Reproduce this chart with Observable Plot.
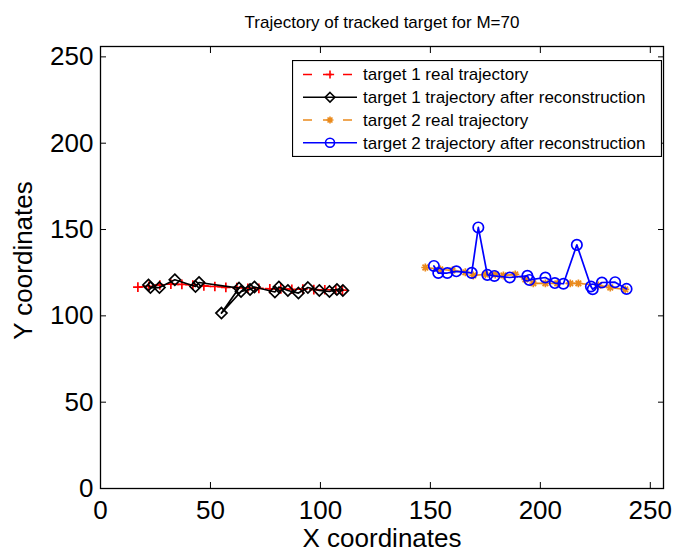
<!DOCTYPE html>
<html>
<head>
<meta charset="utf-8">
<script src="https://cdn.jsdelivr.net/npm/d3@7"></script>
<script src="https://cdn.jsdelivr.net/npm/@observablehq/plot@0.6"></script>
<style>
  html, body { margin: 0; padding: 0; background: #fff; }
  #wrap { position: relative; width: 677px; height: 551px; font-family: "Liberation Sans", Arial, Helvetica, sans-serif; }
  #legend { position: absolute; left: 292px; top: 60px; }
</style>
</head>
<body>
<div id="wrap"><div id="chart"></div><div id="legend"></div></div>
<script>
const titleText = "Trajectory of tracked target for M=70";
const xLabel = "X coordinates";
const yLabel = "Y coordinates";
const ticks = [0, 50, 100, 150, 200, 250];

// target 1 real trajectory
const t1RealX = [17, 22, 27, 32, 37, 42, 47, 52, 57, 62, 67, 72, 77, 82, 87, 92, 97, 102, 107, 110];
const t1RealY = [116.6, 117.1, 117.9, 118.4, 118.2, 117.9, 117.3, 117.0, 116.5, 116.4, 116.0, 115.9, 115.7, 115.6, 115.4, 115.5, 115.2, 115.1, 115.0, 114.9];
// target 1 trajectory after reconstruction
const t1RecX = [21.8, 22.7, 26.8, 33.8, 43.2, 44.8, 63.0, 55.0, 63.9, 68.0, 70.0, 79.3, 81.1, 85.2, 90.0, 94.3, 99.5, 104.1, 107.5, 110.2];
const t1RecY = [117.9, 116.4, 116.4, 120.9, 117.0, 119.3, 116.1, 101.6, 114.1, 115.3, 116.7, 113.8, 116.7, 114.7, 113.2, 116.4, 114.7, 114.1, 115.3, 114.7];
// target 2 real trajectory
const t2RealX = [147.7, 154.5, 160.0, 165.9, 169.5, 175.0, 179.5, 183.2, 188.6, 193.2, 196.8, 202.3, 207.7, 213.6, 217.3, 226.4, 231.8, 238.6];
const t2RealY = [128.0, 126.9, 126.3, 125.2, 123.4, 124.0, 124.0, 123.4, 124.0, 121.1, 118.8, 118.8, 118.8, 118.8, 118.8, 117.6, 116.4, 115.3];
// target 2 trajectory after reconstruction
const t2RecX = [151.6, 153.6, 157.7, 161.8, 168.8, 171.8, 175.9, 179.1, 186.1, 194.1, 195.0, 202.3, 206.6, 210.5, 216.6, 223.0, 223.8, 228.0, 234.0, 239.2];
const t2RecY = [128.9, 124.8, 124.8, 125.8, 124.9, 151.2, 123.7, 123.1, 122.2, 123.2, 120.8, 122.2, 119.0, 118.6, 141.1, 117.0, 115.4, 119.3, 119.5, 115.6];

const seriesLabels = ["target 1 real trajectory", "target 1 trajectory after reconstruction", "target 2 real trajectory", "target 2 trajectory after reconstruction"];
const seriesColors = ["#ff0000", "#000000", "#ea8a1c", "#0000ff"];

const zip = (xs, ys) => xs.map((x, i) => ({x, y: ys[i]}));
const t1Real = zip(t1RealX, t1RealY);
const t1Rec = zip(t1RecX, t1RecY);
const t2Real = zip(t2RealX, t2RealY);
const t2Rec = zip(t2RecX, t2RecY);

const star8 = {
  draw(ctx, size) {
    const r = Math.sqrt(size / Math.PI) * 1.05;
    const d = r * Math.SQRT1_2;
    ctx.moveTo(-r, 0); ctx.lineTo(r, 0);
    ctx.moveTo(0, -r); ctx.lineTo(0, r);
    ctx.moveTo(-d, -d); ctx.lineTo(d, d);
    ctx.moveTo(-d, d); ctx.lineTo(d, -d);
  }
};

const symbols = ["plus", "diamond2", star8, "circle"];
const radii = [3.2, 5.0, 3.8, 5.2];
const dashes = ["9,7", null, "9,7", null];
const d3Symbols = [d3.symbolPlus, d3.symbolDiamond2, star8, d3.symbolCircle];

const seriesData = [t1Real, t1Rec, t2Real, t2Rec];
const seriesMarks = [];
seriesData.forEach((data, i) => {
  seriesMarks.push(Plot.line(data, {x: "x", y: "y", stroke: seriesColors[i], strokeWidth: 1.7, strokeDasharray: dashes[i]}));
  seriesMarks.push(Plot.dot(data, {x: "x", y: "y", symbol: () => symbols[i], r: radii[i], stroke: seriesColors[i], fill: "none", strokeWidth: 1.7}));
});

const fontFam = "'Liberation Sans', Arial, Helvetica, sans-serif";

const chart = Plot.plot({
  width: 677,
  height: 551,
  marginTop: 46,
  marginRight: 14,
  marginBottom: 63,
  marginLeft: 100,
  x: {domain: [0, 256]},
  y: {domain: [0, 256]},
  symbol: {type: "identity"},
  style: {fontFamily: fontFam, color: "#000", background: "#fff"},
  marks: [
    ...seriesMarks,
    Plot.frame({stroke: "#000", strokeWidth: 1.3}),
    Plot.axisX(ticks, {anchor: "bottom", tickSize: 0, tickPadding: 12, fontSize: 26, label: null}),
    Plot.axisY(ticks, {anchor: "left", tickSize: 0, tickPadding: 7, fontSize: 26, label: null}),
    Plot.axisX(ticks, {anchor: "bottom", tickSize: 6, dy: -6, tickFormat: () => "", label: null}),
    Plot.axisX(ticks, {anchor: "top", tickSize: 6, dy: 6, tickFormat: () => "", label: null}),
    Plot.axisY(ticks, {anchor: "left", tickSize: 6, dx: 6, tickFormat: () => "", label: null}),
    Plot.axisY(ticks, {anchor: "right", tickSize: 6, dx: -6, tickFormat: () => "", label: null}),
    Plot.text([titleText], {frameAnchor: "top", textAnchor: "middle", lineAnchor: "middle", dy: -24, fontSize: 17}),
    Plot.text([xLabel], {frameAnchor: "bottom", textAnchor: "middle", lineAnchor: "bottom", dy: 58, fontSize: 26}),
    Plot.text([yLabel], {frameAnchor: "left", textAnchor: "middle", lineAnchor: "middle", dx: -77, dy: -7, rotate: -90, fontSize: 26})
  ]
});
document.getElementById("chart").appendChild(chart);

// Legend
const lw = 370, lh = 97;
const rowY = [14.5, 37.3, 60, 82.7];
const leg = d3.select("#legend").append("svg")
  .attr("width", lw).attr("height", lh)
  .style("font-family", fontFam);
leg.append("rect").attr("x", 0.5).attr("y", 0.5).attr("width", lw - 1).attr("height", lh - 1)
  .attr("fill", "#fff").attr("stroke", "#000").attr("stroke-width", 1.2);
seriesLabels.forEach((lab, i) => {
  const g = leg.append("g").attr("transform", `translate(0,${rowY[i]})`);
  g.append("line").attr("x1", 11).attr("x2", 65).attr("y1", 0).attr("y2", 0)
    .attr("stroke", seriesColors[i]).attr("stroke-width", 1.6)
    .attr("stroke-dasharray", dashes[i] ? "9,11" : null);
  g.append("path").attr("transform", "translate(38,0)")
    .attr("d", d3.symbol(d3Symbols[i], Math.PI * radii[i] * radii[i] * 0.75)())
    .attr("fill", "none").attr("stroke", seriesColors[i]).attr("stroke-width", 1.6);
  g.append("text").attr("x", 71).attr("y", 0).attr("dy", "0.35em")
    .attr("font-size", 17).attr("fill", "#000").text(lab);
});
</script>
</body>
</html>
